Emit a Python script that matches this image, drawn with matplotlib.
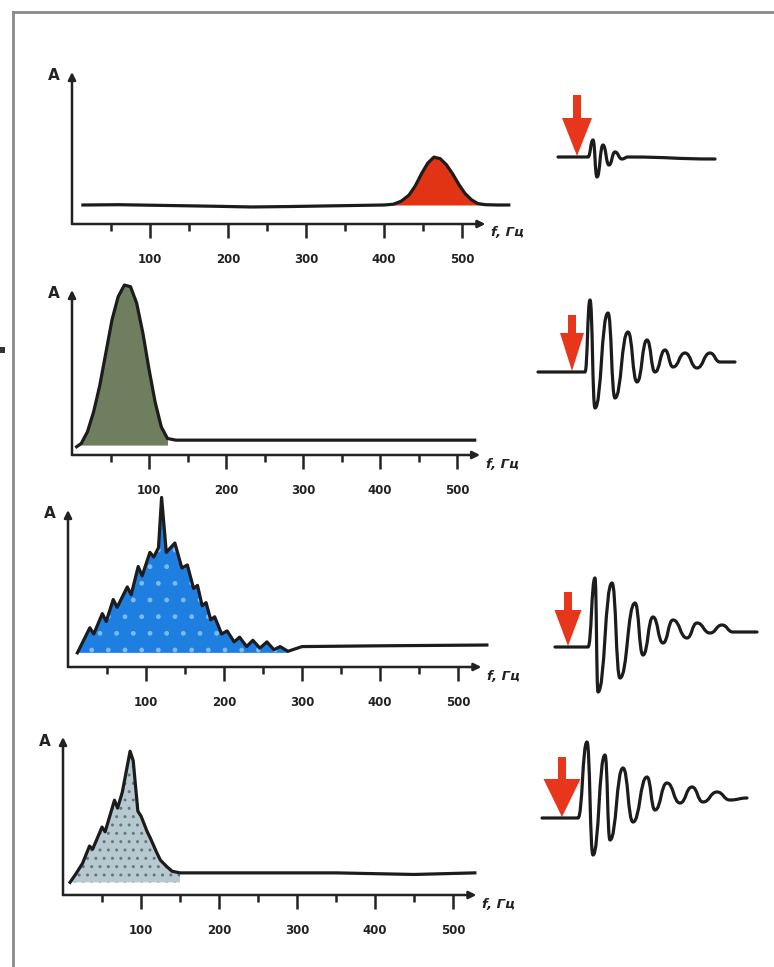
import numpy as np
import matplotlib.pyplot as plt
from matplotlib.path import Path
from matplotlib.patches import PathPatch, FancyArrow, Rectangle
from matplotlib.lines import Line2D

W, H = 774, 967

# spectra (frequency in Hz, amplitude as fraction of the A axis)
freq1 = [14, 60, 120, 180, 230, 280, 340, 400, 412, 422, 432, 440, 448, 456, 464,
         472, 480, 488, 496, 504, 512, 520, 530, 545, 560]
amp1 = [0.125, 0.127, 0.122, 0.117, 0.112, 0.115, 0.12, 0.125, 0.13, 0.15, 0.19, 0.25,
        0.33, 0.40, 0.44, 0.43, 0.39, 0.33, 0.26, 0.20, 0.16, 0.135, 0.127, 0.125, 0.125]

freq2 = [6, 12, 20, 28, 36, 44, 52, 60, 68, 76, 84, 92, 100, 108, 116, 124, 135,
         200, 300, 400, 523]
amp2 = [0.05, 0.07, 0.14, 0.26, 0.42, 0.62, 0.82, 0.96, 1.03, 1.02, 0.92, 0.74, 0.52,
        0.32, 0.17, 0.10, 0.09, 0.09, 0.09, 0.09, 0.09]

freq3 = [12, 20, 28, 33, 44, 49, 58, 63, 76, 81, 90, 95, 105, 110, 116, 120, 126,
         137, 146, 153, 161, 166, 172, 177, 183, 188, 197, 204, 213, 220, 229, 237,
         246, 255, 264, 272, 282, 300, 400, 537]
amp3 = [0.09, 0.17, 0.25, 0.21, 0.34, 0.29, 0.43, 0.38, 0.51, 0.46, 0.64, 0.58, 0.73,
        0.70, 0.76, 1.08, 0.73, 0.79, 0.63, 0.65, 0.50, 0.52, 0.39, 0.41, 0.30, 0.32,
        0.21, 0.23, 0.16, 0.19, 0.13, 0.17, 0.12, 0.16, 0.11, 0.13, 0.10, 0.13, 0.135,
        0.14]

freq4 = [9, 16, 25, 34, 38, 50, 54, 66, 70, 76, 86, 90, 96, 100, 108, 112, 120, 125,
         133, 140, 150, 250, 350, 450, 528]
amp4 = [0.08, 0.13, 0.20, 0.31, 0.29, 0.43, 0.40, 0.60, 0.55, 0.65, 0.91, 0.85, 0.53,
        0.50, 0.40, 0.36, 0.27, 0.22, 0.18, 0.15, 0.14, 0.14, 0.14, 0.13, 0.14]

tick_major = [100, 200, 300, 400, 500]
tick_minor = [50, 150, 250, 350, 450]
tick_labels = ['100', '200', '300', '400', '500']

# waveforms: time (arbitrary units) and amplitude at the turning points
t1 = [28, 58, 63, 67, 73, 79, 85, 92, 98, 185]
w1 = [0, 0, 17, -20, 12, -8, 5, -2, 0, -2]
t2 = [8, 55, 60, 65, 78, 85, 98, 107, 117, 125, 135, 143, 155, 167, 180, 190, 205]
w2 = [0, 0, 72, -36, 59, -26, 40, -10, 32, 0, 22, 5, 19, 4, 19, 10, 10]
t3 = [25, 58, 65, 68, 82, 90, 105, 113, 123, 133, 143, 157, 167, 180, 192, 203, 227]
w3 = [0, 0, 69, -45, 64, -31, 44, -8, 30, 4, 27, 9, 24, 14, 22, 15, 15]
t4 = [12, 48, 57, 63, 75, 80, 93, 103, 117, 125, 137, 150, 162, 173, 187, 200, 217]
w4 = [0, 0, 76, -37, 63, -22, 50, -4, 41, 8, 35, 15, 31, 16, 26, 18, 20]

plt.rcParams['font.family'] = ['DejaVu Sans']
fig = plt.figure(figsize=(W / 100, H / 100), dpi=100)


def px_rect(x0, y0, w, h):
    return [x0 / W, 1 - (y0 + h) / H, w / W, h / H]


def spectrum(freq, amp, ox, oy, k, h, fill_lo, fill_hi, base, color, hatch=None, hcol=None):
    ax = fig.add_axes(px_rect(ox, oy - h, 570 * k, h))
    ax.set_xlim(0, 570)
    ax.set_ylim(0, 1)
    for s in ax.spines.values():
        s.set_visible(False)
    f = np.array(freq)
    a = np.array(amp)
    m = (f >= fill_lo) & (f <= fill_hi)
    ax.fill_between(f[m], base, a[m], facecolor=color, edgecolor=hcol or color,
                    hatch=hatch, linewidth=0, clip_on=False)
    ax.plot(f, a, color='#1c1c1c', lw=2.3, clip_on=False, solid_joinstyle='round')
    ax.annotate('', xy=(530, 0), xytext=(0, 0), annotation_clip=False,
                arrowprops=dict(arrowstyle='-|>', lw=1.8, color='#222222',
                                mutation_scale=11, shrinkA=0, shrinkB=0))
    ax.annotate('', xy=(0, 1.0), xytext=(0, 0), annotation_clip=False,
                arrowprops=dict(arrowstyle='-|>', lw=1.8, color='#222222',
                                mutation_scale=11, shrinkA=0, shrinkB=0))
    ax.set_xticks(tick_major)
    ax.set_xticklabels(tick_labels, fontsize=8.5, fontweight='bold', color='#222222')
    ax.set_xticks(tick_minor, minor=True)
    ax.tick_params(axis='x', which='major', length=10, width=1.8, direction='out',
                   pad=11, color='#222222')
    ax.tick_params(axis='x', which='minor', length=5, width=1.8, direction='out',
                   color='#222222')
    ax.set_yticks([])
    ax.annotate('A', xy=(0, 1), xycoords='axes fraction', xytext=(-18, -4),
                textcoords='offset pixels', ha='center', va='center',
                fontsize=11, fontweight='bold', color='#222222')
    ax.annotate('f, Гц', xy=(530, 0), xycoords='data', xytext=(6, -9),
                textcoords='offset pixels', ha='left', va='center',
                fontsize=9.5, fontweight='bold', color='#222222', style='italic')
    return ax


spectrum(freq1, amp1, 72, 224, 0.78, 152, 405, 535, 0.125, '#e03414')
spectrum(freq2, amp2, 72, 455, 0.77, 165, 6, 124, 0.06, '#6e7e5e')
spectrum(freq3, amp3, 68, 667, 0.78, 157, 12, 290, 0.09, '#1f7fe0', '.', '#7dbdf7')
spectrum(freq4, amp4, 63, 895, 0.78, 158, 9, 150, 0.08, '#b7c8cf', '..', '#5f7a84')


def bezier_path(t, w):
    verts = [(t[0], w[0])]
    codes = [Path.MOVETO]
    for i in range(1, len(t)):
        xm = (t[i - 1] + t[i]) / 2
        verts += [(xm, w[i - 1]), (xm, w[i]), (t[i], w[i])]
        codes += [Path.CURVE4] * 3
    return Path(verts, codes)


def waveform(t, w, baseline, t_arrow, top, head, head_w):
    ax = fig.add_axes(px_rect(530, baseline - 90, 240, 170))
    ax.set_xlim(0, 240)
    ax.set_ylim(-80, 90)
    ax.axis('off')
    ax.add_patch(FancyArrow(t_arrow, top, 0, -(top - 1), width=8, head_width=head_w,
                            head_length=top - head, length_includes_head=True,
                            color='#e8361c', lw=0))
    ax.add_patch(PathPatch(bezier_path(t, w), fill=False, lw=2.3, edgecolor='#1c1c1c',
                           capstyle='round', joinstyle='round'))


waveform(t1, w1, 157, 47, 62, 24, 30)
waveform(t2, w2, 372, 42, 57, 19, 24)
waveform(t3, w3, 647, 38, 55, 19, 27)
waveform(t4, w4, 818, 32, 61, 23, 37)

# scan frame
fig.add_artist(Line2D([13 / W, 13 / W], [0, 1 - 12 / H], color='#8a8a8a', lw=2))
fig.add_artist(Line2D([13 / W, 1], [1 - 12 / H, 1 - 12 / H], color='#8a8a8a', lw=2))
fig.add_artist(Rectangle((0, 1 - 353 / H), 5 / W, 6 / H, transform=fig.transFigure,
                         color='#333333', lw=0))

fig.savefig('out.png', dpi=100)
